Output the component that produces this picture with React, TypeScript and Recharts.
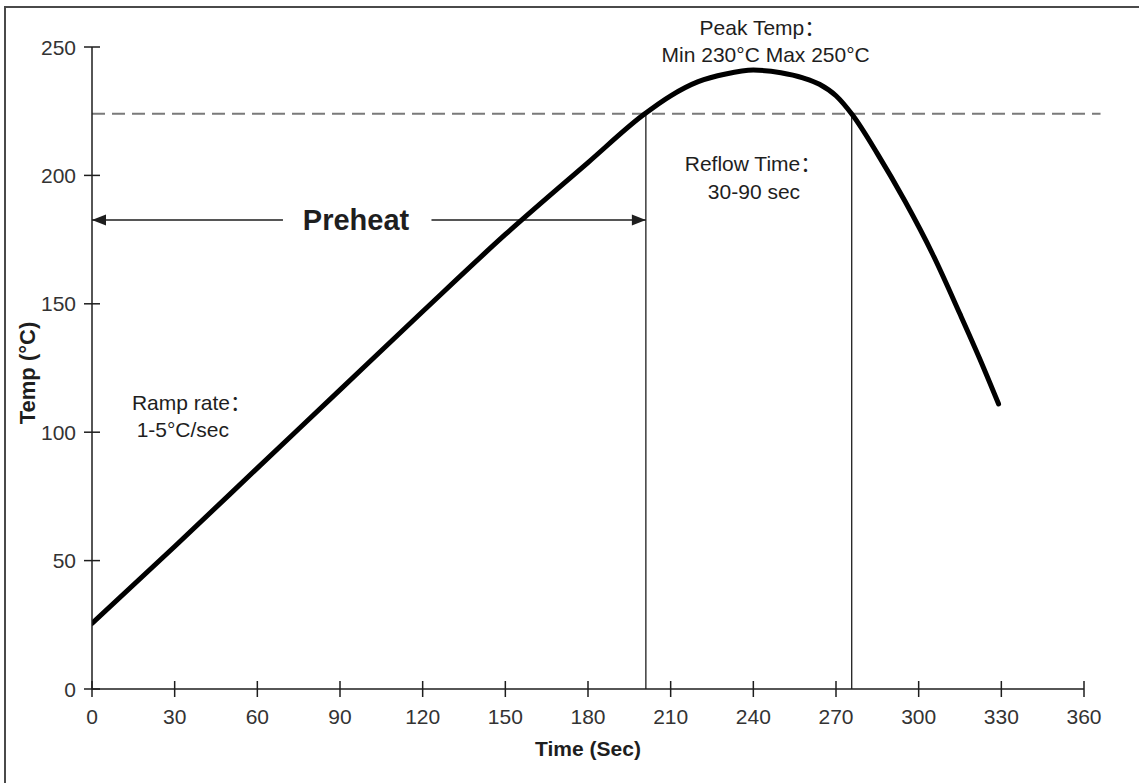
import React from 'react';
import { ComposedChart, Line, XAxis, YAxis, ReferenceLine, ReferenceDot } from 'recharts';

// Reflow profile: time (s) vs temperature (°C)
const timeSec = [0, 30, 60, 90, 120, 150, 180, 200, 210, 220, 230, 240, 250, 258, 264, 270, 276, 285, 295, 305, 315, 322, 329];
const tempC = [25.5, 55.5, 86, 116.5, 147, 177, 205, 223.5, 231, 236.5, 239.5, 241, 240, 238, 235.5, 231, 223.5, 208.5, 190, 169.5, 146, 129, 111];

const xTicks = [0, 30, 60, 90, 120, 150, 180, 210, 240, 270, 300, 330, 360];
const yTicks = [0, 50, 100, 150, 200, 250];

const liquidusTemp = 224;
const liquidusLineEnd = 366;
const reflowStart = 201;
const reflowEnd = 275.7;
const preheatLevel = 182.6;
const preheatLeftEnd = 69.3;
const preheatRightStart = 123.2;

const annotations = [
  { x: 220.5, y: 254.7, text: 'Peak Temp：' },
  { x: 206.7, y: 244.2, text: 'Min 230°C Max 250°C' },
  { x: 215.1, y: 201.7, text: 'Reflow Time：' },
  { x: 223.5, y: 191.0, text: '30-90 sec' },
  { x: 14.5, y: 108.6, text: 'Ramp rate：' },
  { x: 16.2, y: 98.0, text: '1-5°C/sec' },
];
const preheatLabel = { x: 76.5, y: 178.7, text: 'Preheat' };

const data = timeSec.map((t, i) => ({ t, temp: tempC[i] }));

const FONT = "'Liberation Sans', Arial, 'Noto Sans CJK SC', sans-serif";
const INK = '#1e1e1e';

const XTick = (p: any) => {
  const { x, y, payload } = p;
  return (
    <g>
      <line x1={x} x2={x} y1={y - 8} y2={y + 8} stroke={INK} strokeWidth={1.5} />
      <text x={x} y={y + 35} textAnchor="middle" fontFamily={FONT} fontSize={21} fill="#333">
        {payload.value}
      </text>
    </g>
  );
};

const YTick = (p: any) => {
  const { x, y, payload } = p;
  return (
    <g>
      <line x1={x - 8} x2={x + 8} y1={y} y2={y} stroke={INK} strokeWidth={1.5} />
      <text x={x - 16} y={y + 7.5} textAnchor="end" fontFamily={FONT} fontSize={21} fill="#333">
        {payload.value}
      </text>
    </g>
  );
};

const XLabel = (p: any) => {
  const vb = p.viewBox || {};
  return (
    <text x={vb.x + vb.width / 2} y={vb.y + 67} textAnchor="middle" fontFamily={FONT} fontWeight="bold" fontSize={21} fill={INK}>
      Time (Sec)
    </text>
  );
};

const YLabel = (p: any) => {
  const vb = p.viewBox || {};
  const cx = 35;
  const cy = vb.y + vb.height / 2 + 5;
  return (
    <text x={cx} y={cy} transform={`rotate(-90 ${cx} ${cy})`} textAnchor="middle" fontFamily={FONT} fontWeight="bold" fontSize={22} fill={INK}>
      Temp (°C)
    </text>
  );
};

const arrowShape = (dir: 'left' | 'right') => (p: any) => {
  const { x1, y1, x2, y2 } = p;
  const tipX = dir === 'left' ? Math.min(x1, x2) : Math.max(x1, x2);
  const s = dir === 'left' ? 1 : -1;
  return (
    <g>
      <line x1={x1} y1={y1} x2={x2} y2={y2} stroke={INK} strokeWidth={1.5} />
      <polygon points={`${tipX},${y1} ${tipX + s * 14},${y1 - 5.5} ${tipX + s * 14},${y1 + 5.5}`} fill={INK} />
    </g>
  );
};

const textShape = (text: string, bold = false, size = 21) => (p: any) => (
  <text x={p.cx} y={p.cy} fontFamily={FONT} fontSize={size} fontWeight={bold ? 'bold' : 'normal'} fill={INK}>
    {text}
  </text>
);

export default function App() {
  return (
    <div style={{ position: 'relative', width: 1139, height: 783, background: '#fff', overflow: 'hidden' }}>
      <style>{'body{margin:0;background:#fff}'}</style>
      <div
        style={{
          position: 'absolute',
          left: 4,
          top: 6,
          width: 1200,
          height: 900,
          borderLeft: '2px solid #4a4a4a',
          borderTop: '2px solid #4a4a4a',
          pointerEvents: 'none',
        }}
      />
      <ComposedChart width={1139} height={783} data={data} margin={{ top: 47, right: 55, bottom: 0, left: 0 }}>
        <XAxis
          dataKey="t"
          type="number"
          domain={[0, 360]}
          ticks={xTicks}
          allowDataOverflow
          height={94}
          tickSize={0}
          tickMargin={0}
          tickLine={false}
          axisLine={{ stroke: INK, strokeWidth: 1.5 }}
          tick={XTick}
          interval={0}
          label={<XLabel />}
        />
        <YAxis
          type="number"
          domain={[0, 250]}
          ticks={yTicks}
          allowDataOverflow
          width={92}
          tickSize={0}
          tickMargin={0}
          tickLine={false}
          axisLine={{ stroke: INK, strokeWidth: 1.5 }}
          tick={YTick}
          interval={0}
          label={<YLabel />}
        />
        <ReferenceLine
          segment={[{ x: 0, y: liquidusTemp }, { x: liquidusLineEnd, y: liquidusTemp }]}
          stroke="#7a7a7a"
          strokeWidth={2}
          strokeDasharray="13 7"
          ifOverflow="visible"
        />
        <ReferenceLine
          segment={[{ x: reflowStart, y: 0 }, { x: reflowStart, y: liquidusTemp }]}
          stroke={INK}
          strokeWidth={1.3}
          ifOverflow="visible"
        />
        <ReferenceLine
          segment={[{ x: reflowEnd, y: 0 }, { x: reflowEnd, y: liquidusTemp }]}
          stroke={INK}
          strokeWidth={1.3}
          ifOverflow="visible"
        />
        <ReferenceLine
          segment={[{ x: 0, y: preheatLevel }, { x: preheatLeftEnd, y: preheatLevel }]}
          shape={arrowShape('left')}
          ifOverflow="visible"
        />
        <ReferenceLine
          segment={[{ x: preheatRightStart, y: preheatLevel }, { x: reflowStart, y: preheatLevel }]}
          shape={arrowShape('right')}
          ifOverflow="visible"
        />
        <Line
          dataKey="temp"
          type="monotone"
          stroke="#000"
          strokeWidth={5}
          strokeLinecap="round"
          strokeLinejoin="round"
          dot={false}
          activeDot={false}
          isAnimationActive={false}
        />
        {annotations.map((a, i) => (
          <ReferenceDot key={i} x={a.x} y={a.y} r={0} ifOverflow="visible" shape={textShape(a.text)} />
        ))}
        <ReferenceDot
          x={preheatLabel.x}
          y={preheatLabel.y}
          r={0}
          ifOverflow="visible"
          shape={textShape(preheatLabel.text, true, 29)}
        />
      </ComposedChart>
    </div>
  );
}
